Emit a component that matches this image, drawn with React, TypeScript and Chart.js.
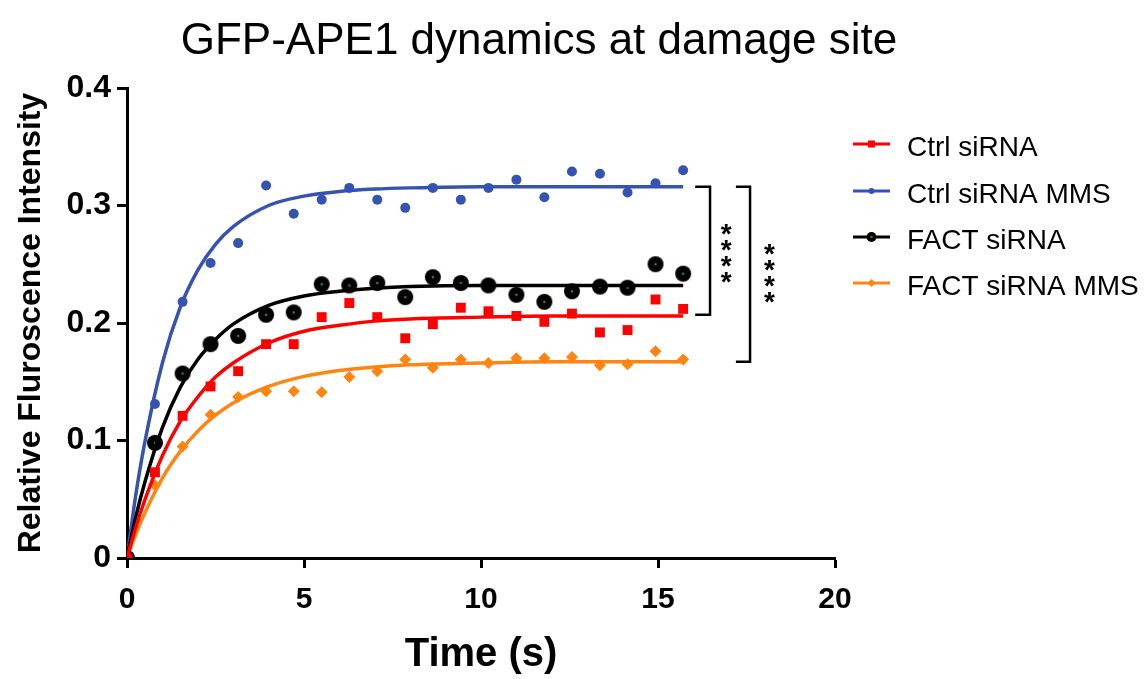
import { useEffect, useRef } from "react";
import { Chart, registerables } from "chart.js";

Chart.register(...registerables);

const FONT = '"Liberation Sans", Arial, Helvetica, sans-serif';

const TITLE = "GFP-APE1 dynamics at damage site";
const X_TITLE = "Time (s)";
const Y_TITLE = "Relative Fluroscence Intensity";
const SERIES_NAMES = ["Ctrl siRNA", "Ctrl siRNA MMS", "FACT siRNA", "FACT siRNA MMS"];
const SERIES_COLORS = ["#FF0000", "#3553B0", "#000000", "#FF8410"];

// measured time points (s)
const TIMES = [0, 0.79, 1.57, 2.36, 3.14, 3.93, 4.71, 5.5, 6.28, 7.07, 7.86, 8.64, 9.43, 10.21, 11.0, 11.79, 12.57, 13.36, 14.14, 14.93, 15.71];
const CTRL = [0, 0.073, 0.121, 0.146, 0.159, 0.182, 0.182, 0.205, 0.217, 0.205, 0.187, 0.199, 0.213, 0.21, 0.206, 0.201, 0.208, 0.192, 0.194, 0.22, 0.212];
const CTRL_MMS = [0, 0.131, 0.218, 0.251, 0.268, 0.317, 0.293, 0.305, 0.315, 0.305, 0.298, 0.315, 0.305, 0.315, 0.322, 0.307, 0.329, 0.327, 0.311, 0.319, 0.33];
const FACT = [0, 0.098, 0.157, 0.182, 0.189, 0.207, 0.209, 0.233, 0.232, 0.234, 0.222, 0.239, 0.234, 0.232, 0.224, 0.218, 0.227, 0.231, 0.23, 0.25, 0.242];
const FACT_MMS = [0, 0.062, 0.095, 0.122, 0.137, 0.142, 0.142, 0.141, 0.154, 0.159, 0.169, 0.162, 0.169, 0.166, 0.17, 0.17, 0.171, 0.164, 0.165, 0.176, 0.169];

// fitted curves
const FIT_TIMES = [0, 0.25, 0.5, 1, 1.5, 2, 2.5, 3, 4, 5, 6, 7, 8, 10, 12, 14, 15.71];
const CTRL_FIT = [0, 0.0264, 0.049, 0.087, 0.116, 0.137, 0.154, 0.166, 0.183, 0.193, 0.198, 0.2016, 0.2035, 0.205, 0.206, 0.206, 0.206];
const CTRL_MMS_FIT = [0, 0.054, 0.098, 0.166, 0.213, 0.245, 0.267, 0.282, 0.3, 0.308, 0.312, 0.314, 0.315, 0.316, 0.316, 0.316, 0.316];
const FACT_FIT = [0, 0.035, 0.064, 0.111, 0.145, 0.169, 0.186, 0.199, 0.215, 0.223, 0.227, 0.2295, 0.231, 0.232, 0.232, 0.232, 0.232];
const FACT_MMS_FIT = [0, 0.0204, 0.038, 0.068, 0.0905, 0.108, 0.1215, 0.132, 0.146, 0.1546, 0.1596, 0.1626, 0.1644, 0.166, 0.167, 0.167, 0.167];

// significance brackets
const BRACKET_TOP = [0.316, 0.316];
const BRACKET_BOTTOM = [0.207, 0.167];
const BRACKET_X0 = [16.05, 17.2];
const BRACKET_X1 = [16.47, 17.6];
const STAR_X = [16.93, 18.15];
const STAR_Y = [0.259, 0.242];
const STAR_LABEL = ["****", "****"];

const X_TICK_STEP = 5;
const Y_TICK_STEP = 0.1;

function makeFactMarker(r: number): HTMLCanvasElement {
  const c = document.createElement("canvas");
  const s = Math.ceil(r * 2 + 2);
  c.width = s;
  c.height = s;
  const g = c.getContext("2d")!;
  g.fillStyle = "#000";
  g.beginPath();
  g.arc(s / 2, s / 2, r, 0, Math.PI * 2);
  g.fill();
  g.fillStyle = "#10A010";
  g.beginPath();
  g.arc(s / 2, s / 2, 1.3, 0, Math.PI * 2);
  g.fill();
  return c;
}

const pts = (xs: number[], ys: number[]) => xs.map((x, i) => ({ x, y: ys[i] }));

export default function App() {
  const ref = useRef<HTMLCanvasElement | null>(null);

  useEffect(() => {
    if (!ref.current) return;
    const factBig = makeFactMarker(8);

    const decor = {
      id: "decor",
      afterDraw(chart: any) {
        const ctx = chart.ctx as CanvasRenderingContext2D;
        const xs = chart.scales.x;
        const ys = chart.scales.y;
        ctx.save();
        // title
        ctx.fillStyle = "#000";
        ctx.font = `44px ${FONT}`;
        ctx.textAlign = "center";
        ctx.textBaseline = "alphabetic";
        ctx.fillText(TITLE, 539, 54);

        // legend
        const lx0 = 853, lx1 = 890, tx = 907;
        const rowY = [144, 191, 237, 283];
        ctx.font = `28px ${FONT}`;
        ctx.textAlign = "left";
        SERIES_NAMES.forEach((name, i) => {
          const y = rowY[i];
          const col = SERIES_COLORS[i];
          ctx.strokeStyle = col;
          ctx.lineWidth = 3;
          ctx.beginPath();
          ctx.moveTo(lx0, y);
          ctx.lineTo(lx1, y);
          ctx.stroke();
          const cx = (lx0 + lx1) / 2;
          ctx.fillStyle = col;
          if (i === 0) {
            ctx.fillRect(cx - 3.5, y - 3.5, 7, 7);
          } else if (i === 1) {
            ctx.beginPath();
            ctx.arc(cx, y, 3, 0, Math.PI * 2);
            ctx.fill();
          } else if (i === 2) {
            ctx.beginPath();
            ctx.arc(cx, y, 5, 0, Math.PI * 2);
            ctx.fill();
            ctx.fillStyle = "#10A010";
            ctx.beginPath();
            ctx.arc(cx, y, 1.2, 0, Math.PI * 2);
            ctx.fill();
          } else {
            ctx.beginPath();
            ctx.moveTo(cx, y - 4);
            ctx.lineTo(cx + 4, y);
            ctx.lineTo(cx, y + 4);
            ctx.lineTo(cx - 4, y);
            ctx.closePath();
            ctx.fill();
          }
          ctx.fillStyle = "#000";
          ctx.textBaseline = "alphabetic";
          ctx.fillText(name, tx, y + 12);
        });

        // brackets
        ctx.strokeStyle = "#000";
        ctx.lineWidth = 2.5;
        ctx.fillStyle = "#000";
        for (let i = 0; i < BRACKET_TOP.length; i++) {
          const x0 = xs.getPixelForValue(BRACKET_X0[i]);
          const x1 = xs.getPixelForValue(BRACKET_X1[i]);
          const y0 = ys.getPixelForValue(BRACKET_TOP[i]);
          const y1 = ys.getPixelForValue(BRACKET_BOTTOM[i]);
          ctx.beginPath();
          ctx.moveTo(x0, y0);
          ctx.lineTo(x1, y0);
          ctx.lineTo(x1, y1);
          ctx.lineTo(x0, y1);
          ctx.stroke();
          const sx = xs.getPixelForValue(STAR_X[i]);
          const sy = ys.getPixelForValue(STAR_Y[i]);
          const n = STAR_LABEL[i].length;
          const gap = 15.8;
          ctx.font = `bold 28px ${FONT}`;
          ctx.textAlign = "center";
          ctx.textBaseline = "alphabetic";
          const m = ctx.measureText("*");
          const off = (m.actualBoundingBoxAscent - m.actualBoundingBoxDescent) / 2;
          for (let k = 0; k < n; k++) {
            const yy = sy + (k - (n - 1) / 2) * gap;
            ctx.fillText(STAR_LABEL[i][k], sx, yy + off);
          }
        }
        ctx.restore();
      },
    };

    const chart = new Chart(ref.current, {
      type: "scatter",
      data: {
        datasets: [
          {
            label: SERIES_NAMES[0] + " points",
            data: pts(TIMES, CTRL),
            backgroundColor: SERIES_COLORS[0],
            borderColor: SERIES_COLORS[0],
            borderWidth: 0,
            pointStyle: TIMES.map((_, i) => (i === 0 ? "circle" : "rect")) as any,
            pointRadius: TIMES.map((_, i) => (i === 0 ? 6 : 7)) as any,
            showLine: false,
          },
          {
            label: SERIES_NAMES[0] + " fit",
            data: pts(FIT_TIMES, CTRL_FIT),
            borderColor: SERIES_COLORS[0],
            borderWidth: 3.5,
            pointRadius: 0,
            showLine: true,
            cubicInterpolationMode: "monotone",
          },
          {
            label: SERIES_NAMES[2] + " fit",
            data: pts(FIT_TIMES, FACT_FIT),
            borderColor: SERIES_COLORS[2],
            borderWidth: 3.5,
            pointRadius: 0,
            showLine: true,
            cubicInterpolationMode: "monotone",
          },
          {
            label: SERIES_NAMES[2] + " points",
            data: pts(TIMES, FACT),
            pointStyle: factBig as any,
            pointRadius: 8,
            showLine: false,
          },
          {
            label: SERIES_NAMES[1] + " points",
            data: pts(TIMES, CTRL_MMS),
            backgroundColor: SERIES_COLORS[1],
            borderColor: SERIES_COLORS[1],
            borderWidth: 0,
            pointStyle: "circle",
            pointRadius: 5,
            showLine: false,
          },
          {
            label: SERIES_NAMES[1] + " fit",
            data: pts(FIT_TIMES, CTRL_MMS_FIT),
            borderColor: SERIES_COLORS[1],
            borderWidth: 3.5,
            pointRadius: 0,
            showLine: true,
            cubicInterpolationMode: "monotone",
          },
          {
            label: SERIES_NAMES[3] + " points",
            data: pts(TIMES, FACT_MMS),
            backgroundColor: SERIES_COLORS[3],
            borderColor: SERIES_COLORS[3],
            borderWidth: 0,
            pointStyle: "rectRot",
            pointRadius: 6,
            showLine: false,
          },
          {
            label: SERIES_NAMES[3] + " fit",
            data: pts(FIT_TIMES, FACT_MMS_FIT),
            borderColor: SERIES_COLORS[3],
            borderWidth: 3.5,
            pointRadius: 0,
            showLine: true,
            cubicInterpolationMode: "monotone",
          },
        ],
      },
      options: {
        animation: false,
        responsive: false,
        maintainAspectRatio: false,
        layout: { padding: { top: 88, right: 312, left: 0, bottom: 0 } },
        plugins: {
          legend: { display: false },
          title: { display: false },
          tooltip: { enabled: false },
        },
        scales: {
          x: {
            type: "linear",
            min: 0,
            max: 20,
            afterFit: (s: any) => {
              s.height = 121;
            },
            border: { color: "#000", width: 3 },
            grid: { drawOnChartArea: false, tickLength: 10, tickWidth: 3, color: "#000" },
            ticks: {
              stepSize: X_TICK_STEP,
              color: "#000",
              maxRotation: 0,
              padding: 14,
              font: { family: FONT, size: 30, weight: "bold" },
            },
            title: {
              display: true,
              text: X_TITLE,
              color: "#000",
              font: { family: FONT, size: 40, weight: "bold" },
              padding: { top: 0, bottom: 0 },
            },
          },
          y: {
            min: 0,
            max: 0.4,
            afterFit: (s: any) => {
              s.width = 127;
            },
            border: { color: "#000", width: 3 },
            grid: { drawOnChartArea: false, tickLength: 10, tickWidth: 3, color: "#000" },
            ticks: {
              stepSize: Y_TICK_STEP,
              color: "#000",
              padding: 6,
              font: { family: FONT, size: 32, weight: "bold" },
              callback: (v: any) => (Number(v) === 0 ? "0" : Number(v).toFixed(1)),
            },
            title: {
              display: true,
              text: Y_TITLE,
              color: "#000",
              font: { family: FONT, size: 32, weight: "bold" },
              padding: { top: 12, bottom: 0 },
            },
          },
        },
      },
      plugins: [decor],
    } as any);

    return () => chart.destroy();
  }, []);

  return (
    <div style={{ position: "absolute", left: 0, top: 0, width: 1147, height: 679, background: "#fff" }}>
      <canvas ref={ref} width={1147} height={679} style={{ width: 1147, height: 679 }} />
    </div>
  );
}
